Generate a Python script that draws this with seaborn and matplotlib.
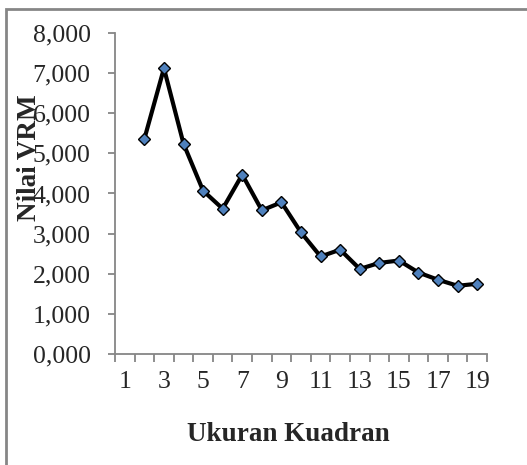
"""VRM value vs quadrat size line chart"""
import seaborn as sns
import matplotlib.pyplot as plt
from matplotlib.patches import Rectangle
from matplotlib.ticker import FixedLocator, FuncFormatter

ukuran = [2, 3, 4, 5, 6, 7, 8, 9, 10, 11, 12, 13, 14, 15, 16, 17, 18, 19]
nilai_vrm = [5.36, 7.12, 5.24, 4.07, 3.62, 4.47, 3.58, 3.78, 3.03,
             2.43, 2.60, 2.12, 2.27, 2.33, 2.03, 1.85, 1.70, 1.75]
x_labels = [1, 3, 5, 7, 9, 11, 13, 15, 17, 19]
y_ticks = [0, 1, 2, 3, 4, 5, 6, 7, 8]

sns.set_style('white')
plt.rcParams['font.family'] = ['Liberation Serif', 'DejaVu Serif']

fig = plt.figure(figsize=(5.27, 4.65), dpi=100)
ax = fig.add_axes([115 / 527, 1 - 354 / 465, 372 / 527, 321 / 465])

sns.lineplot(x=ukuran, y=nilai_vrm, ax=ax, color='black', linewidth=3.0,
             marker='D', markersize=6, markerfacecolor='#4F81BD',
             markeredgecolor='black', markeredgewidth=1.0)

ax.set_xlim(0.5, 19.5)
ax.set_ylim(0, 8)

grey = '#868686'
for side in ['top', 'right']:
    ax.spines[side].set_visible(False)
for side in ['left', 'bottom']:
    ax.spines[side].set_color(grey)
    ax.spines[side].set_linewidth(1.3)

ax.set_yticks(y_ticks)
ax.yaxis.set_major_formatter(FuncFormatter(lambda v, p: f'{v:.3f}'.replace('.', ',')))
ax.tick_params(axis='y', which='major', direction='out', length=5, width=1.3,
               color=grey, labelsize=18.5, pad=12.5, left=True)

# category boundaries as major ticks, labels on odd categories
ax.xaxis.set_major_locator(FixedLocator([b + 0.5 for b in range(0, 20)]))
ax.xaxis.set_minor_locator(FixedLocator(x_labels))
ax.xaxis.set_major_formatter(FuncFormatter(lambda v, p: ''))
ax.xaxis.set_minor_formatter(FuncFormatter(lambda v, p: f'{int(v)}'))
ax.tick_params(axis='x', which='major', direction='out', length=6, width=1.3,
               color=grey, bottom=True)
ax.tick_params(axis='x', which='minor', length=0, labelsize=18.5, pad=12.5, bottom=True)

ax.set_xlabel('')
ax.set_ylabel('')
fig.text(288 / 527, 1 - 434 / 465, 'Ukuran Kuadran', ha='center', va='center',
         fontsize=19.5, fontweight='bold')
fig.text(30 / 527, 1 - 158 / 465, 'Nilai VRM', ha='center', va='center',
         rotation=90, fontsize=19.5, fontweight='bold')

fig.patches.append(Rectangle((6 / 527, -0.1), 1.2, 1.1 - 9 / 465,
                             transform=fig.transFigure, fill=False,
                             edgecolor=grey, linewidth=2.0))

plt.savefig('out.png', dpi=100)
plt.close()
